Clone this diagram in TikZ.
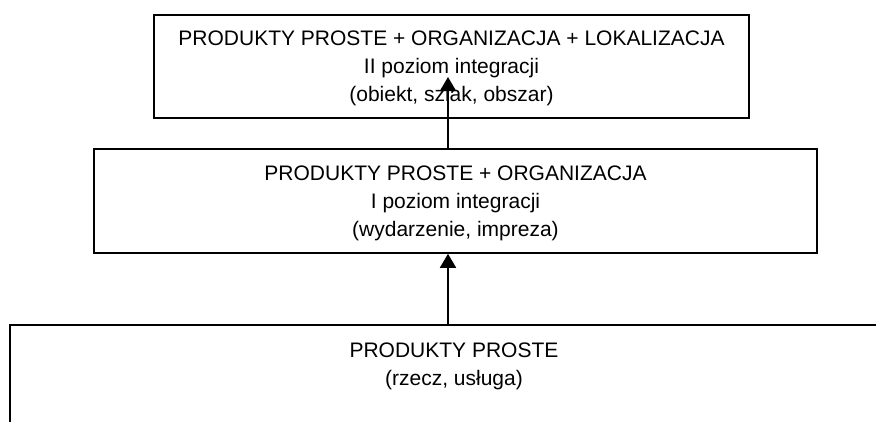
\documentclass[tikz,border=0pt]{standalone}
\usepackage{fontspec}
\setmainfont{Liberation Sans}
\usetikzlibrary{arrows.meta}
\tikzset{
	level/.style={draw, line width=1.6pt, inner sep=0pt, align=center,
			font=\fontsize{21}{28}\selectfont},
	lift/.style={-{Triangle[length=14pt,width=16pt]}, line width=1.8pt}
}

\begin{document}
\begin{tikzpicture}[x=1pt,y=-1pt]
        \useasboundingbox (0,0) rectangle (876,421);
        \node[level, minimum width=595pt, minimum height=103pt] (loc) at (451.5,66.5)
            {\rule{0pt}{19pt}PRODUKTY PROSTE + ORGANIZACJA + LOKALIZACJA\\ II poziom integracji\\ (obiekt, szlak, obszar)};
        \node[level, minimum width=723pt, minimum height=104pt] (org) at (455.5,201)
            {\rule{0pt}{19pt}PRODUKTY PROSTE + ORGANIZACJA\\ I poziom integracji\\ (wydarzenie, impreza)};
        \node[level, draw=none] (simple) at (454,366) {PRODUKTY PROSTE\\ (rzecz, usługa)};
        \draw[line width=1.6pt] (10,440) |- (900,325);
        \coordinate (simpletop) at (448,325);
        \coordinate (loctip) at (448,77);
        \draw[lift] (simpletop) -- (org.south -| simpletop);
        \draw[lift] (org.north -| simpletop) -- (loctip);
    \end{tikzpicture}
\end{document}
